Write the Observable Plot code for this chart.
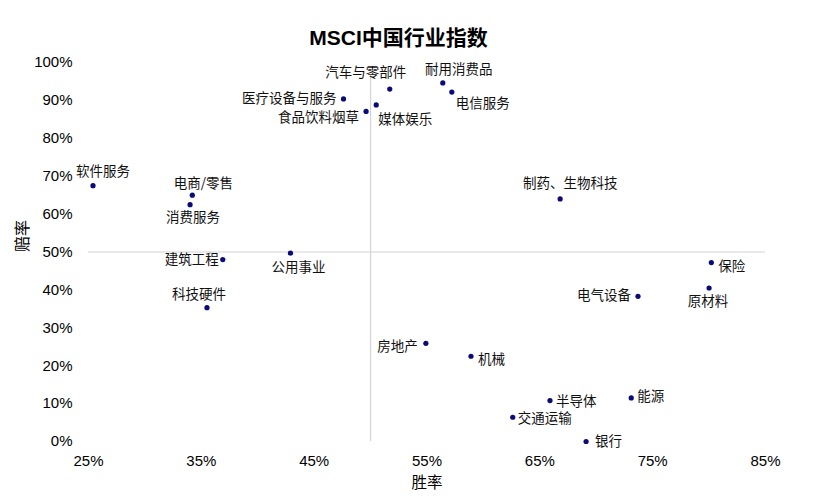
<!DOCTYPE html>
<html>
<head>
<meta charset="utf-8">
<script src="https://cdn.jsdelivr.net/npm/d3@7"></script>
<script src="https://cdn.jsdelivr.net/npm/@observablehq/plot@0.6"></script>
<style>
  body { margin: 0; background: #fff; }
  #title {
    width: 815px; height: 50px; box-sizing: border-box;
    padding-top: 26px; padding-right: 18px;
    line-height: 24px; text-align: center;
    font-family: "Liberation Sans", "Noto Sans CJK SC", sans-serif;
    font-weight: bold; font-size: 21px; color: #000;
  }
</style>
</head>
<body>
<div id="title">MSCI中国行业指数</div>
<div id="chart"></div>
<script>
// ---- data ----
const sectors = ["软件服务","电商/零售","消费服务","建筑工程","公用事业","科技硬件",
  "医疗设备与服务","食品饮料烟草","媒体娱乐","汽车与零部件","耐用消费品","电信服务",
  "制药、生物科技","保险","原材料","电气设备","房地产","机械","半导体","能源","交通运输","银行"];
const winRate = [0.254,0.342,0.340,0.369,0.429,0.355,
  0.476,0.496,0.505,0.517,0.564,0.572,
  0.668,0.802,0.800,0.737,0.549,0.589,0.659,0.731,0.626,0.691];
const odds = [0.675,0.650,0.625,0.480,0.497,0.353,
  0.904,0.871,0.888,0.930,0.946,0.922,
  0.640,0.472,0.405,0.383,0.259,0.225,0.108,0.115,0.064,0.000];
const xTicks = [0.25,0.35,0.45,0.55,0.65,0.75,0.85];
const yTicks = [0,0.1,0.2,0.3,0.4,0.5,0.6,0.7,0.8,0.9,1.0];
const xLabel = "胜率";
const yLabel = "赔率";

// ---- label layout (dx, dy, anchor) ----
const labelLayout = {
  "软件服务": [10,-14,"middle"], "电商/零售": [11,-11,"middle"], "消费服务": [3,13,"middle"],
  "建筑工程": [-4,0,"end"], "公用事业": [8,15,"middle"], "科技硬件": [-8,-13,"middle"],
  "医疗设备与服务": [-7,0,"end"], "食品饮料烟草": [-7,6,"end"], "媒体娱乐": [2,15,"start"],
  "汽车与零部件": [-24,-16,"middle"], "耐用消费品": [16,-13,"middle"], "电信服务": [4,12,"start"],
  "制药、生物科技": [10,-15,"middle"], "保险": [7,4,"start"], "原材料": [-1,14,"middle"],
  "电气设备": [-7,-1,"end"], "房地产": [-8,3,"end"], "机械": [7,3,"start"],
  "半导体": [6,1,"start"], "能源": [6,-1,"start"], "交通运输": [5,1,"start"], "银行": [9,0,"start"]
};

const data = sectors.map((name, i) => ({name, x: winRate[i], y: odds[i]}));
const pct = d3.format(".0%");
const cjk = "'Noto Sans CJK SC', sans-serif";

const labelMarks = data.map(d => {
  const [dx, dy, anchor] = labelLayout[d.name];
  return Plot.text([d], {x: "x", y: "y", text: "name", dx, dy, textAnchor: anchor,
    fontSize: 13.5, fontFamily: cjk, fill: "#111"});
});

const chart = Plot.plot({
  width: 815, height: 450,
  marginLeft: 88, marginRight: 50, marginTop: 12, marginBottom: 59,
  style: {fontFamily: "'Liberation Sans', Arial, sans-serif", fontSize: "15px", color: "#000", background: "#fff"},
  x: {domain: [0.25, 0.85]},
  y: {domain: [0, 1]},
  marks: [
    Plot.ruleY([0.5], {stroke: "#d4d4d4", strokeWidth: 1.2}),
    Plot.ruleX([0.5], {y1: 0, y2: 0.965, stroke: "#d4d4d4", strokeWidth: 1.2}),
    Plot.axisX({ticks: xTicks, tickFormat: pct, tickSize: 0, tickPadding: 14, label: null}),
    Plot.axisY({ticks: yTicks, tickFormat: pct, tickSize: 0, tickPadding: 16, label: null}),
    Plot.text([xLabel], {frameAnchor: "bottom", dy: 46, fontSize: 15.5, fontFamily: cjk, fill: "#000"}),
    Plot.text([yLabel], {frameAnchor: "left", dx: -66, rotate: -90, fontSize: 16, fontFamily: cjk, fill: "#000"}),
    Plot.dot(data, {x: "x", y: "y", r: 2.6, fill: "#0a0a78", stroke: "none"}),
    ...labelMarks
  ]
});
document.getElementById("chart").appendChild(chart);
</script>
</body>
</html>
